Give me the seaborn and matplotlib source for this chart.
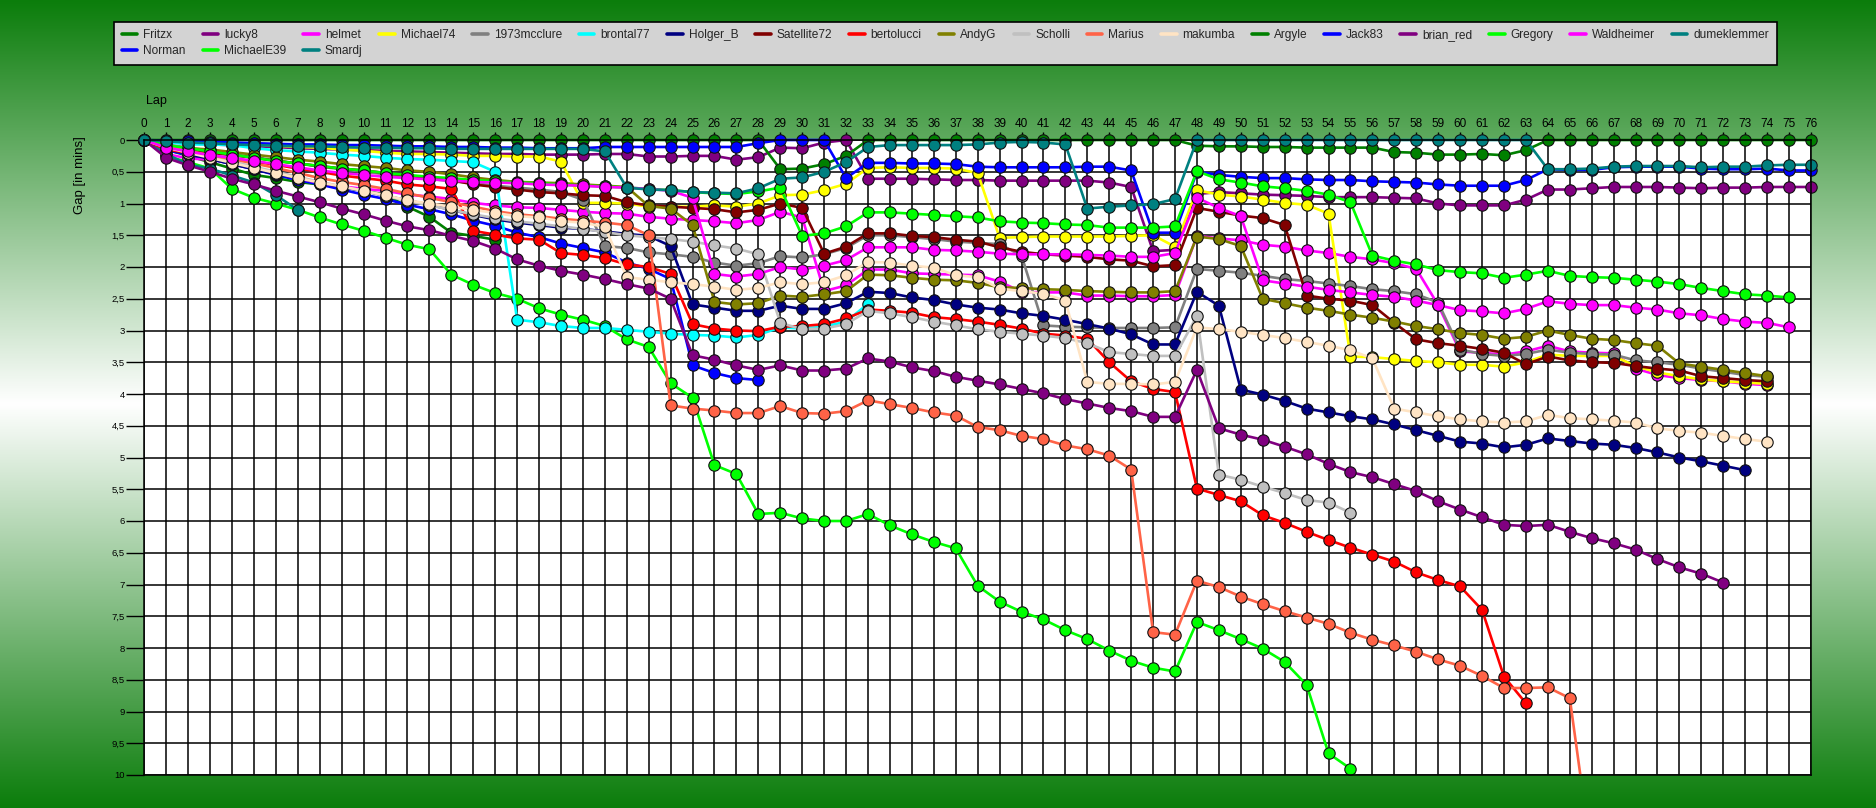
import numpy as np
import pandas as pd
import matplotlib
matplotlib.use("Agg")
import matplotlib.pyplot as plt
import seaborn as sns
from matplotlib.lines import Line2D
from matplotlib.patches import Rectangle

# ---------------- data (gap to leader in minutes, index = lap) ----------------
drivers = ["Fritzx", "Norman", "lucky8", "MichaelE39", "helmet", "Smardj",
           "Michael74", "1973mcclure", "brontal77", "Holger_B", "Satellite72",
           "bertolucci", "AndyG", "Scholli", "Marius", "makumba", "Argyle",
           "Jack83", "brian_red", "Gregory", "Waldheimer", "dumeklemmer"]

driver_colors = ["#008000", "#0000FF", "#800080", "#00FF00", "#FF00FF", "#008080",
                 "#FFFF00", "#808080", "#00FFFF", "#000080", "#800000",
                 "#FF0000", "#808000", "#C0C0C0", "#FF6347", "#FFE4C4", "#008000",
                 "#0000FF", "#800080", "#00FF00", "#FF00FF", "#008080"]

fritzx = [0, 0.15, 0.25, 0.35, 0.45, 0.55, 0.6, 0.66, 0.7, 0.74, 0.8, 0.86, 1.05, 1.21, 1.46, 1.51, 1.57]

norman = [0, 0.16, 0.23, 0.3, 0.38, 0.46, 0.55, 0.63, 0.7, 0.78,
          0.86, 0.93, 1.02, 1.09, 1.17, 1.27, 1.35, 1.46, 1.53, 1.63,
          1.7, 1.77, 1.93, 2.03, 2.19, 3.55, 3.67, 3.75, 3.78]

lucky8 = [0, 0.03, 0.05, 0.07, 0.08, 0.1, 0.11, 0.13, 0.14, 0.15,
          0.16, 0.17, 0.18, 0.19, 0.2, 0.21, 0.22, 0.22, 0.23, 0.23,
          0.23, 0.22, 0.22, 0.26, 0.26, 0.25, 0.25, 0.31, 0.27, 0.12,
          0.13, 0.04, 0, 0.61, 0.61, 0.61, 0.62, 0.63, 0.63, 0.64,
          0.64, 0.64, 0.64, 0.64, 0.67, 0.74, 1.75, 1.73, 0.85, 0.82,
          0.84, 0.86, 0.87, 0.88, 0.9, 0.9, 0.9, 0.91, 0.92, 1.0,
          1.03, 1.03, 1.03, 0.94, 0.78, 0.78, 0.76, 0.74, 0.74, 0.74,
          0.75, 0.76, 0.75, 0.75, 0.74, 0.74, 0.74]

michaele39 = [0, 0.25, 0.35, 0.45, 0.77, 0.91, 1.0, 1.1, 1.22, 1.33,
              1.43, 1.54, 1.65, 1.72, 2.12, 2.28, 2.41, 2.5, 2.65, 2.75,
              2.83, 2.93, 3.14, 3.26, 3.83, 4.06, 5.12, 5.26, 5.89, 5.87,
              5.96, 6.0, 6.0, 5.89, 6.07, 6.21, 6.33, 6.43, 7.02, 7.27,
              7.43, 7.55, 7.72, 7.86, 8.04, 8.2, 8.31, 8.37, 7.59, 7.72,
              7.86, 8.01, 8.22, 8.58, 9.66, 9.9, 10.4]

helmet = [0, 0.22, 0.29, 0.31, 0.36, 0.43, 0.53, 0.6, 0.68, 0.73,
          0.77, 0.8, 0.86, 0.89, 0.93, 0.99, 1.03, 1.06, 1.07, 1.1,
          1.13, 1.15, 1.16, 1.21, 1.24, 1.26, 1.28, 1.31, 1.26, 1.13,
          1.22, 2.38, 2.29, 2.04, 2.04, 2.1, 2.11, 2.12, 2.13, 2.23,
          2.39, 2.4, 2.4, 2.45, 2.45, 2.46, 2.46, 2.44, 1.51, 1.55,
          1.58, 1.65, 1.68, 1.74, 1.78, 1.84, 1.88, 1.94, 2.03, 2.6,
          3.33, 3.35, 3.38, 3.33, 3.24, 3.33, 3.35, 3.36, 3.6, 3.7,
          3.75, 3.78, 3.8, 3.84, 3.86]

smardj = [0, 0.22, 0.39, 0.45, 0.56, 0.67, 0.87, 1.1]

michael74 = [0, 0.02, 0.03, 0.04, 0.05, 0.07, 0.09, 0.11, 0.12, 0.15,
             0.17, 0.2, 0.22, 0.22, 0.23, 0.25, 0.25, 0.26, 0.26, 0.34,
             0.99, 0.99, 1.0, 1.05, 1.05, 1.05, 1.03, 1.05, 1.0, 0.87,
             0.86, 0.79, 0.69, 0.44, 0.43, 0.44, 0.44, 0.45, 0.52, 1.54,
             1.53, 1.52, 1.52, 1.52, 1.52, 1.51, 1.5, 1.68, 0.79, 0.86,
             0.89, 0.94, 0.99, 1.02, 1.16, 3.41, 3.42, 3.45, 3.48, 3.5,
             3.54, 3.54, 3.57, 3.5, 3.38, 3.4, 3.4, 3.4, 3.56, 3.66,
             3.72, 3.77, 3.8, 3.82, 3.84]

mcclure = [0, 0.07, 0.12, 0.17, 0.22, 0.27, 0.32, 0.37, 0.42, 0.46,
           0.5, 0.54, 0.58, 0.61, 0.65, 0.68, 0.72, 0.75, 0.78, 0.82,
           0.94, 1.67, 1.7, 1.77, 1.8, 1.84, 1.93, 1.98, 1.94, 1.83,
           1.85, 1.8, 1.7, 1.5, 1.5, 1.53, 1.56, 1.6, 1.62, 1.64,
           1.82, 2.92, 2.94, 2.95, 2.96, 2.96, 2.96, 2.95, 2.03, 2.06,
           2.09, 2.14, 2.19, 2.22, 2.26, 2.3, 2.35, 2.38, 2.43, 2.56,
           3.3, 3.37, 3.4, 3.37, 3.3, 3.35, 3.37, 3.38, 3.47, 3.5,
           3.54, 3.6, 3.65, 3.7, 3.73]

brontal77 = [0, 0.03, 0.07, 0.07, 0.08, 0.13, 0.16, 0.18, 0.2, 0.23,
             0.25, 0.28, 0.3, 0.31, 0.33, 0.35, 0.5, 2.83, 2.87, 2.93,
             2.96, 2.96, 2.99, 3.02, 3.05, 3.07, 3.08, 3.11, 3.07, 2.95,
             2.97, 2.94, 2.86, 2.58]

holger_b = [0, 0.14, 0.22, 0.3, 0.38, 0.46, 0.54, 0.6, 0.67, 0.74,
            0.8, 0.88, 0.95, 1.02, 1.1, 1.18, 1.25, 1.3, 1.34, 1.38,
            1.4, 1.44, 1.48, 1.51, 1.67, 2.59, 2.64, 2.69, 2.69, 2.61,
            2.66, 2.66, 2.57, 2.39, 2.41, 2.48, 2.52, 2.59, 2.64, 2.67,
            2.73, 2.77, 2.83, 2.9, 2.97, 3.06, 3.22, 3.22, 2.39, 2.61,
            3.93, 4.01, 4.11, 4.23, 4.29, 4.35, 4.4, 4.48, 4.57, 4.66,
            4.75, 4.78, 4.84, 4.8, 4.7, 4.74, 4.78, 4.8, 4.85, 4.92,
            5.0, 5.06, 5.13, 5.2]

satellite72 = [0, 0.12, 0.16, 0.2, 0.24, 0.28, 0.33, 0.37, 0.41, 0.45,
               0.48, 0.52, 0.56, 0.6, 0.63, 0.7, 0.74, 0.78, 0.82, 0.84,
               0.87, 0.88, 0.98, 1.03, 1.05, 1.07, 1.09, 1.14, 1.1, 1.0,
               1.07, 1.79, 1.68, 1.47, 1.47, 1.51, 1.53, 1.57, 1.6, 1.69,
               1.76, 1.8, 1.82, 1.84, 1.88, 1.9, 1.99, 1.97, 1.07, 1.13,
               1.19, 1.23, 1.34, 2.45, 2.5, 2.53, 2.6, 2.88, 3.14, 3.2,
               3.24, 3.29, 3.35, 3.53, 3.41, 3.47, 3.5, 3.51, 3.56, 3.6,
               3.63, 3.72, 3.75, 3.78, 3.8]

bertolucci = [0, 0.15, 0.2, 0.25, 0.29, 0.34, 0.39, 0.45, 0.5, 0.56,
              0.6, 0.64, 0.7, 0.73, 0.77, 1.43, 1.49, 1.55, 1.57, 1.78,
              1.81, 1.86, 1.96, 2.0, 2.11, 2.9, 2.97, 3.0, 3.01, 2.94,
              2.93, 2.9, 2.81, 2.67, 2.69, 2.72, 2.79, 2.82, 2.86, 2.91,
              2.97, 3.05, 3.08, 3.13, 3.5, 3.8, 3.92, 3.97, 5.49, 5.59,
              5.69, 5.91, 6.03, 6.17, 6.3, 6.42, 6.53, 6.64, 6.81, 6.93,
              7.03, 7.4, 8.45, 8.87]

andyg = [0, 0.1, 0.13, 0.15, 0.19, 0.23, 0.27, 0.31, 0.34, 0.38,
         0.41, 0.44, 0.48, 0.5, 0.54, 0.59, 0.63, 0.66, 0.67, 0.68,
         0.7, 0.72, 0.74, 1.04, 1.08, 1.34, 2.55, 2.59, 2.57, 2.45,
         2.47, 2.43, 2.38, 2.12, 2.13, 2.17, 2.2, 2.21, 2.25, 2.32,
         2.33, 2.35, 2.36, 2.38, 2.39, 2.4, 2.4, 2.38, 1.52, 1.56,
         1.67, 2.5, 2.57, 2.64, 2.69, 2.75, 2.8, 2.86, 2.93, 2.98,
         3.04, 3.07, 3.13, 3.1, 3.0, 3.07, 3.13, 3.15, 3.2, 3.24,
         3.52, 3.57, 3.62, 3.67, 3.72]

scholli = [0, 0.1, 0.18, 0.26, 0.34, 0.42, 0.5, 0.58, 0.66, 0.73,
           0.8, 0.88, 0.96, 1.03, 1.1, 1.17, 1.23, 1.28, 1.32, 1.36,
           1.4, 1.45, 1.5, 1.53, 1.56, 1.6, 1.66, 1.71, 1.8, 2.88,
           2.98, 2.97, 2.9, 2.69, 2.73, 2.79, 2.86, 2.92, 2.98, 3.02,
           3.05, 3.08, 3.12, 3.2, 3.34, 3.37, 3.4, 3.4, 2.77, 5.27,
           5.35, 5.46, 5.56, 5.67, 5.71, 5.87]

marius = [0, 0.1, 0.17, 0.24, 0.3, 0.37, 0.44, 0.52, 0.6, 0.66,
          0.71, 0.77, 0.84, 0.91, 0.98, 1.05, 1.12, 1.17, 1.2, 1.24,
          1.27, 1.3, 1.34, 1.5, 4.18, 4.23, 4.26, 4.3, 4.3, 4.19,
          4.3, 4.31, 4.27, 4.1, 4.16, 4.22, 4.29, 4.34, 4.52, 4.57,
          4.66, 4.71, 4.81, 4.87, 4.97, 5.19, 7.75, 7.79, 6.94, 7.04,
          7.19, 7.31, 7.42, 7.52, 7.62, 7.76, 7.87, 7.96, 8.06, 8.18,
          8.28, 8.44, 8.63, 8.63, 8.62, 8.79, 11.3]

makumba = [0, 0.12, 0.2, 0.28, 0.36, 0.44, 0.52, 0.6, 0.67, 0.73,
           0.8, 0.87, 0.95, 1.0, 1.05, 1.1, 1.15, 1.2, 1.22, 1.28,
           1.3, 1.37, 2.16, 2.2, 2.24, 2.27, 2.31, 2.36, 2.33, 2.24,
           2.27, 2.24, 2.13, 1.92, 1.93, 1.98, 2.01, 2.13, 2.16, 2.34,
           2.38, 2.42, 2.53, 3.81, 3.84, 3.84, 3.85, 3.81, 2.95, 2.98,
           3.02, 3.07, 3.12, 3.18, 3.24, 3.31, 3.44, 4.23, 4.29, 4.35,
           4.4, 4.43, 4.45, 4.43, 4.33, 4.38, 4.4, 4.42, 4.45, 4.54,
           4.58, 4.61, 4.66, 4.71, 4.75]

argyle = [0, 0, 0, 0, 0, 0, 0, 0, 0, 0,
          0, 0, 0, 0, 0, 0, 0, 0, 0, 0,
          0, 0, 0, 0, 0, 0, 0, 0, 0, 0.46,
          0.45, 0.38, 0.25, 0, 0, 0, 0, 0, 0, 0,
          0, 0, 0, 0, 0, 0, 0, 0, 0.09, 0.1,
          0.1, 0.11, 0.11, 0.12, 0.12, 0.12, 0.12, 0.19, 0.2, 0.23,
          0.23, 0.22, 0.24, 0.16, 0, 0, 0, 0, 0, 0,
          0, 0, 0, 0, 0, 0, 0]

jack83 = [0, 0.01, 0.02, 0.03, 0.04, 0.05, 0.06, 0.07, 0.07, 0.08,
          0.08, 0.09, 0.1, 0.1, 0.11, 0.11, 0.12, 0.12, 0.13, 0.13,
          0.13, 0.11, 0.11, 0.11, 0.11, 0.11, 0.11, 0.11, 0.05, 0,
          0, 0, 0.6, 0.36, 0.36, 0.37, 0.37, 0.38, 0.42, 0.43,
          0.43, 0.43, 0.43, 0.42, 0.42, 0.48, 1.46, 1.46, 0.5, 0.55,
          0.58, 0.6, 0.6, 0.62, 0.63, 0.63, 0.65, 0.66, 0.67, 0.7,
          0.72, 0.72, 0.72, 0.63, 0.46, 0.47, 0.47, 0.43, 0.42, 0.42,
          0.42, 0.45, 0.46, 0.46, 0.45, 0.48, 0.48]

brian_red = [0, 0.28, 0.4, 0.5, 0.61, 0.7, 0.8, 0.89, 0.98, 1.08,
             1.17, 1.27, 1.36, 1.42, 1.51, 1.59, 1.71, 1.88, 1.98, 2.06,
             2.12, 2.19, 2.27, 2.34, 2.5, 3.39, 3.46, 3.55, 3.62, 3.55,
             3.63, 3.63, 3.6, 3.44, 3.49, 3.58, 3.64, 3.73, 3.79, 3.85,
             3.92, 3.99, 4.08, 4.15, 4.22, 4.27, 4.36, 4.36, 3.62, 4.54,
             4.64, 4.72, 4.83, 4.95, 5.1, 5.23, 5.31, 5.42, 5.53, 5.69,
             5.82, 5.94, 6.06, 6.08, 6.06, 6.17, 6.27, 6.35, 6.45, 6.6,
             6.73, 6.83, 6.97]

gregory = [0, 0.08, 0.13, 0.18, 0.23, 0.28, 0.33, 0.37, 0.41, 0.45,
           0.48, 0.52, 0.55, 0.58, 0.6, 0.63, 0.65, 0.67, 0.68, 0.7,
           0.72, 0.73, 0.75, 0.77, 0.79, 0.82, 0.84, 0.85, 0.81, 0.75,
           1.51, 1.47, 1.36, 1.14, 1.14, 1.16, 1.18, 1.2, 1.22, 1.28,
           1.3, 1.31, 1.33, 1.34, 1.38, 1.38, 1.38, 1.36, 0.49, 0.62,
           0.67, 0.73, 0.76, 0.8, 0.86, 0.98, 1.82, 1.9, 1.96, 2.05,
           2.08, 2.1, 2.17, 2.12, 2.06, 2.14, 2.16, 2.17, 2.2, 2.23,
           2.27, 2.33, 2.38, 2.43, 2.45, 2.48]

waldheimer = [0, 0.12, 0.18, 0.24, 0.28, 0.33, 0.38, 0.43, 0.48, 0.52,
              0.55, 0.58, 0.6, 0.62, 0.64, 0.66, 0.67, 0.68, 0.7, 0.71,
              0.72, 0.74, 0.75, 0.77, 0.8, 0.91, 2.11, 2.15, 2.11, 2.0,
              2.04, 1.98, 1.89, 1.69, 1.69, 1.69, 1.73, 1.74, 1.76, 1.79,
              1.8, 1.8, 1.8, 1.81, 1.82, 1.84, 1.84, 1.78, 0.91, 1.07,
              1.2, 2.21, 2.26, 2.31, 2.36, 2.4, 2.44, 2.47, 2.53, 2.6,
              2.68, 2.7, 2.73, 2.66, 2.54, 2.58, 2.6, 2.6, 2.64, 2.67,
              2.73, 2.76, 2.82, 2.86, 2.88, 2.95]

dumeklemmer = [0, 0.02, 0.04, 0.05, 0.07, 0.08, 0.09, 0.1, 0.1, 0.11,
               0.12, 0.12, 0.13, 0.13, 0.14, 0.14, 0.14, 0.14, 0.14, 0.14,
               0.14, 0.18, 0.75, 0.78, 0.79, 0.82, 0.83, 0.84, 0.76, 0.61,
               0.59, 0.5, 0.35, 0.11, 0.08, 0.08, 0.08, 0.08, 0.07, 0.04,
               0.03, 0.04, 0.07, 1.08, 1.05, 1.03, 1.01, 0.93, 0, 0,
               0, 0, 0, 0, 0, 0, 0, 0, 0, 0,
               0, 0, 0, 0, 0.46, 0.46, 0.45, 0.42, 0.41, 0.41,
               0.41, 0.43, 0.42, 0.42, 0.4, 0.39, 0.39]

series = [fritzx, norman, lucky8, michaele39, helmet, smardj, michael74, mcclure,
          brontal77, holger_b, satellite72, bertolucci, andyg, scholli, marius,
          makumba, argyle, jack83, brian_red, gregory, waldheimer, dumeklemmer]

lap_ticks = list(range(0, 77))
gap_ticks = [0, 0.5, 1, 1.5, 2, 2.5, 3, 3.5, 4, 4.5, 5, 5.5, 6, 6.5, 7, 7.5, 8, 8.5, 9, 9.5, 10]
gap_tick_labels = ["0", "0,5", "1", "1,5", "2", "2,5", "3", "3,5", "4", "4,5", "5",
                   "5,5", "6", "6,5", "7", "7,5", "8", "8,5", "9", "9,5", "10"]

# ---------------- figure ----------------
sns.set_theme(style="white")
plt.rcParams['font.family'] = ['Liberation Sans', 'DejaVu Sans']

W, H = 1876, 808
fig = plt.figure(figsize=(W / 100, H / 100), dpi=100)

# green - white - green vertical gradient background
bg = fig.add_axes([0, 0, 1, 1], zorder=-10)
t = np.linspace(0, 1, 400)
f = 1 - np.abs(2 * t - 1)
green = np.array([11, 125, 11]) / 255.0
white = np.array([1.0, 1.0, 1.0])
grad = green[None, :] + f[:, None] * (white - green)[None, :]
bg.imshow(grad[:, None, :], aspect='auto', extent=[0, 1, 0, 1], origin='upper')
bg.set_axis_off()

x0, x1 = 144.3, 1811.0
y0, y1 = 140.0, 775.0
ax = fig.add_axes([x0 / W, 1 - y1 / H, (x1 - x0) / W, (y1 - y0) / H])
ax.set_facecolor('white')

clip_rect = Rectangle((-0.02, 0.0), 1.04, 1.06, transform=ax.transAxes)

for name, col, vals in zip(drivers, driver_colors, series):
    df = pd.DataFrame({"Lap": np.arange(len(vals)), "Gap": vals})
    sns.lineplot(data=df, x="Lap", y="Gap", ax=ax, color=col, marker='o',
                 markersize=8.2, markeredgecolor='#111111', markeredgewidth=0.8,
                 linewidth=1.9, errorbar=None, legend=False, sort=True)
    ln = ax.lines[-1]
    ln.set_clip_path(clip_rect)

ax.set_xlim(0, 76)
ax.set_ylim(10, 0)
ax.set_xlabel("")
ax.set_ylabel("")

ax.xaxis.tick_top()
ax.set_xticks(lap_ticks)
ax.set_xticklabels([str(v) for v in lap_ticks])
ax.set_yticks(gap_ticks)
ax.set_yticklabels(gap_tick_labels)
ax.tick_params(axis='x', top=True, bottom=False, labeltop=True, labelbottom=False,
               length=6, width=1.0, pad=1.5, labelsize=8.5, color='black', labelcolor='black')
ax.tick_params(axis='y', left=True, right=False, length=12.7, width=1.0, pad=1.5,
               labelsize=6.8, color='black', labelcolor='black')

ax.grid(True, color='black', linewidth=1.1)
ax.set_axisbelow(True)
for s in ax.spines.values():
    s.set_color('black')
    s.set_linewidth(1.1)

fig.text(146 / W, 1 - 101 / H, "Lap", ha='left', va='center', fontsize=9, color='black')
fig.text(80 / W, 1 - 175 / H, "Gap [in mins]", ha='center', va='center',
         rotation=90, fontsize=9.5, color='black')

handles = [Line2D([], [], color=c, lw=2.6) for c in driver_colors]
leg = fig.legend(handles, drivers, ncol=19, loc='upper left',
                 bbox_to_anchor=(114 / W, 1 - 21.5 / H), frameon=True,
                 fancybox=False, facecolor='#D3D3D3', edgecolor='black',
                 fontsize=8.6, handlelength=1.3, handletextpad=0.5,
                 columnspacing=1.42, labelspacing=0.3, borderpad=0.65,
                 borderaxespad=0)
leg.get_frame().set_linewidth(1.2)
leg.get_frame().set_alpha(1.0)

fig.savefig("out.png", dpi=100)
